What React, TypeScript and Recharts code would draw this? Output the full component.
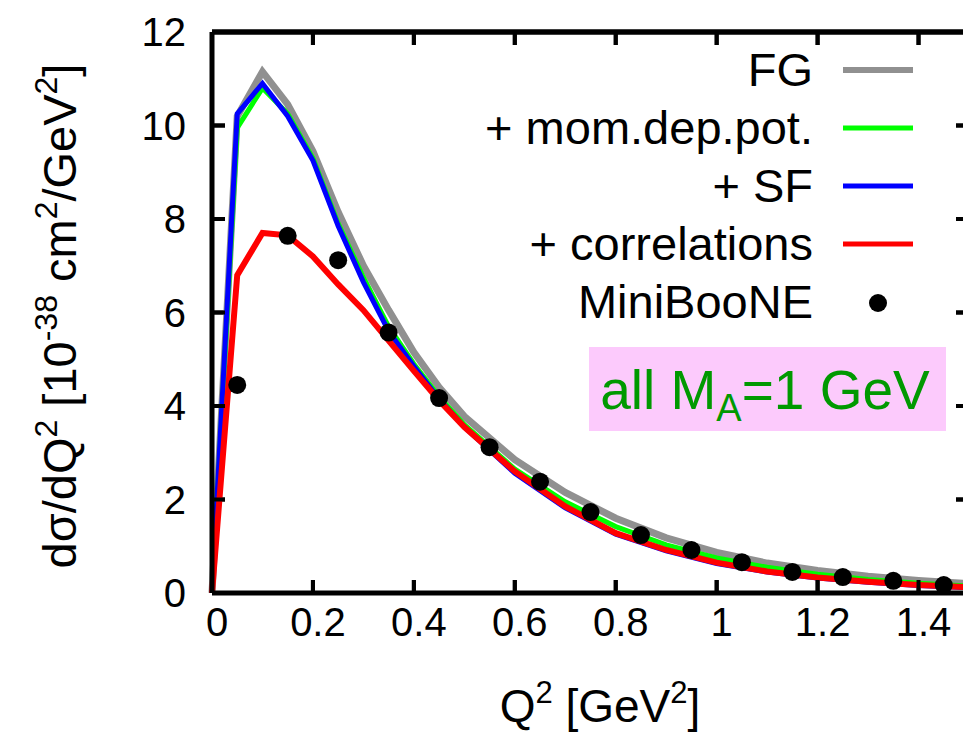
import { ComposedChart, Line, Scatter, XAxis, YAxis, Customized } from 'recharts';

// Q^2 grid of the calculated curves [GeV^2]
const qGrid = [0, 0.05, 0.1, 0.15, 0.2, 0.25, 0.3, 0.35, 0.4, 0.45, 0.5, 0.6, 0.7, 0.8, 0.9, 1.0, 1.1, 1.2, 1.3, 1.4, 1.5];
// dsigma/dQ^2 [10^-38 cm^2/GeV^2]
const fg = [0, 10.2, 11.15, 10.45, 9.45, 8.15, 7.0, 6.05, 5.15, 4.4, 3.78, 2.85, 2.15, 1.6, 1.18, 0.87, 0.64, 0.48, 0.36, 0.27, 0.2];
const momDepPot = [0, 9.95, 10.8, 10.25, 9.3, 7.9, 6.75, 5.7, 4.9, 4.2, 3.6, 2.65, 1.95, 1.42, 1.03, 0.75, 0.55, 0.4, 0.29, 0.21, 0.15];
const sf = [0, 10.25, 10.9, 10.2, 9.25, 7.85, 6.65, 5.6, 4.85, 4.15, 3.55, 2.56, 1.82, 1.26, 0.9, 0.63, 0.45, 0.32, 0.23, 0.16, 0.11];
const correlations = [0, 6.8, 7.7, 7.65, 7.2, 6.6, 6.05, 5.4, 4.75, 4.12, 3.55, 2.6, 1.85, 1.28, 0.92, 0.65, 0.46, 0.33, 0.24, 0.17, 0.12];

// MiniBooNE data
const mbQ = [0.05, 0.15, 0.25, 0.35, 0.45, 0.55, 0.65, 0.75, 0.85, 0.95, 1.05, 1.15, 1.25, 1.35, 1.45];
const mbXs = [4.45, 7.64, 7.12, 5.57, 4.17, 3.12, 2.38, 1.73, 1.24, 0.92, 0.66, 0.45, 0.34, 0.26, 0.17];

const xTicks = [0, 0.2, 0.4, 0.6, 0.8, 1, 1.2, 1.4];
const yTicks = [0, 2, 4, 6, 8, 10, 12];
const xMax = 1.5;
const yMax = 12;

const curves = qGrid.map((q, i) => ({
  q,
  fg: fg[i],
  mdp: momDepPot[i],
  sf: sf[i],
  corr: correlations[i],
}));
const miniboone = mbQ.map((q, i) => ({ q, xs: mbXs[i] }));

// chart box: plot area comes out at x 212..969, y 32..593
const W = 1040;
const H = 740;
const margin = { top: 2, right: 31, bottom: 47, left: 12 };
const yAxisW = 200;
const rightAxisW = 40;
const topAxisH = 30;
const bottomAxisH = 100;
const plotL = margin.left + yAxisW;
const plotR = W - margin.right - rightAxisW;
const plotT = margin.top + topAxisH;
const plotB = H - margin.bottom - bottomAxisH;
const px = (v: number) => plotL + (v / xMax) * (plotR - plotL);
const py = (v: number) => plotB - (v / yMax) * (plotB - plotT);

const FONT = 'Liberation Sans, Arial, sans-serif';
const tickLine = { stroke: '#000', strokeWidth: 4 };
const axisLine = { stroke: '#000', strokeWidth: 5 };
const tickFont = { fontSize: 40, fill: '#000', fontFamily: FONT };
const noLabel = () => '';
const TL = 13;

const Dot = (p: any) => <circle cx={p.cx} cy={p.cy} r={9} fill="#000" />;

const legendRows = [
  { label: '+ mom.dep.pot.', color: '#00ff00' },
  { label: '+ SF', color: '#0000ff' },
  { label: '+ correlations', color: '#ff0000' },
];

// frame ticks, legend, annotation and axis titles
const Overlay = () => (
  <g fontFamily={FONT}>
    <line x1={plotL} x2={plotR} y1={plotT} y2={plotT} stroke="#000" strokeWidth={5} />
    {xTicks.slice(1).map((t) => (
      <g key={'x' + t}>
        <line x1={px(t)} x2={px(t)} y1={plotB} y2={plotB - TL} stroke="#000" strokeWidth={4} />
        <line x1={px(t)} x2={px(t)} y1={plotT} y2={plotT + TL} stroke="#000" strokeWidth={4} />
      </g>
    ))}
    {yTicks.slice(1, -1).map((t) => (
      <g key={'y' + t}>
        <line x1={plotL} x2={plotL + TL} y1={py(t)} y2={py(t)} stroke="#000" strokeWidth={4} />
        <line x1={plotR} x2={plotR - TL} y1={py(t)} y2={py(t)} stroke="#000" strokeWidth={4} />
      </g>
    ))}

    <text x={813} y={86} textAnchor="end" fontSize={47} fill="#000">FG</text>
    <line x1={843} x2={913} y1={70} y2={70} stroke="#909090" strokeWidth={6} />
    {legendRows.map((r, i) => (
      <g key={r.label}>
        <text x={813} y={144 + i * 58} textAnchor="end" fontSize={47} fill="#000">{r.label}</text>
        <line x1={843} x2={913} y1={128 + i * 58} y2={128 + i * 58} stroke={r.color} strokeWidth={5} />
      </g>
    ))}
    <text x={813} y={318} textAnchor="end" fontSize={47} fill="#000">MiniBooNE</text>
    <circle cx={878} cy={303} r={9} fill="#000" />

    <rect x={589} y={347} width={357} height={84} fill="#fccafc" />
    <text x={765} y={409} textAnchor="middle" fontSize={55} fill="#009900">
      all M<tspan fontSize={38} dy={12}>A</tspan><tspan dy={-12}>=1 GeV</tspan>
    </text>

    <text x={600} y={722} textAnchor="middle" fontSize={46} fill="#000">
      Q<tspan fontSize={31} dy={-19}>2</tspan><tspan dy={19}> [GeV</tspan><tspan fontSize={31} dy={-19}>2</tspan><tspan dy={19}>]</tspan>
    </text>
    <text transform="translate(76,316) rotate(-90)" textAnchor="middle" fontSize={47} fill="#000">
      dσ/dQ<tspan fontSize={32} dy={-19}>2</tspan><tspan dy={19}> [10</tspan><tspan fontSize={32} dy={-19}>-38</tspan><tspan dy={19}> cm</tspan><tspan fontSize={32} dy={-19}>2</tspan><tspan dy={19}>/GeV</tspan><tspan fontSize={32} dy={-19}>2</tspan><tspan dy={19}>]</tspan>
    </text>
  </g>
);

export default function App() {
  return (
    <div style={{ position: 'fixed', left: 0, top: 0, width: 963, height: 740, overflow: 'hidden', background: '#fff' }}>
      <ComposedChart width={W} height={H} data={curves} margin={margin}>
        <XAxis
          dataKey="q"
          type="number"
          domain={[0, xMax]}
          ticks={xTicks}
          height={bottomAxisH}
          tickSize={-TL}
          tickMargin={28}
          tickLine={tickLine}
          axisLine={axisLine}
          tick={{ ...tickFont, dx: 5 }}
        />
        <XAxis
          xAxisId="top"
          orientation="top"
          dataKey="q"
          type="number"
          domain={[0, xMax]}
          ticks={xTicks.slice(1)}
          height={topAxisH}
          tickSize={-TL}
          tickMargin={TL}
          tickLine={tickLine}
          axisLine={axisLine}
          tickFormatter={noLabel}
        />
        <YAxis
          type="number"
          domain={[0, yMax]}
          ticks={yTicks}
          width={yAxisW}
          tickSize={-TL}
          tickMargin={39}
          tickLine={tickLine}
          axisLine={axisLine}
          tick={tickFont}
        />
        <YAxis
          yAxisId="right"
          orientation="right"
          type="number"
          domain={[0, yMax]}
          ticks={yTicks.slice(1, -1)}
          width={rightAxisW}
          tickSize={-TL}
          tickMargin={TL}
          tickLine={tickLine}
          axisLine={axisLine}
          tickFormatter={noLabel}
        />
        <Line xAxisId="top" yAxisId="right" type="linear" dataKey="fg" stroke="none" dot={false} isAnimationActive={false} />
        <Line type="linear" dataKey="fg" stroke="#909090" strokeWidth={7} dot={false} isAnimationActive={false} />
        <Line type="linear" dataKey="mdp" stroke="#00ff00" strokeWidth={5} dot={false} isAnimationActive={false} />
        <Line type="linear" dataKey="sf" stroke="#0000ff" strokeWidth={5} dot={false} isAnimationActive={false} />
        <Line type="linear" dataKey="corr" stroke="#ff0000" strokeWidth={6} dot={false} isAnimationActive={false} />
        <Scatter data={miniboone} dataKey="xs" shape={<Dot />} isAnimationActive={false} />
        <Customized component={Overlay} />
      </ComposedChart>
    </div>
  );
}
